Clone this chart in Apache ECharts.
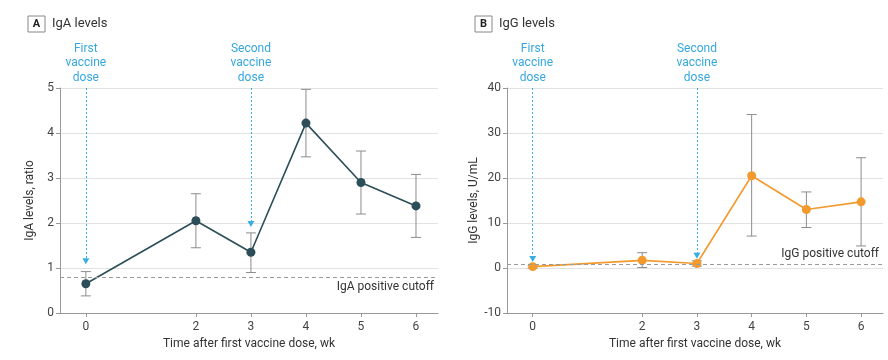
<!DOCTYPE html>
<html>
<head>
<meta charset="utf-8">
<script src="https://cdn.jsdelivr.net/npm/echarts@6/dist/echarts.min.js"></script>
<style>
html,body{margin:0;padding:0;background:#fff;}
#chart{width:888px;height:360px;}
</style>
</head>
<body>
<div id="chart"></div>
<script>
const FONT = '"Roboto", "Liberation Sans", sans-serif';
const weeks = [0, 2, 3, 4, 5, 6];
const xTicks = [0, 2, 3, 4, 5, 6];
const igaMean = [0.65, 2.05, 1.35, 4.22, 2.9, 2.38];
const igaLow = [0.38, 1.45, 0.9, 3.47, 2.2, 1.68];
const igaHigh = [0.92, 2.65, 1.78, 4.97, 3.6, 3.08];
const iggMean = [0.3, 1.7, 1.0, 20.5, 13.0, 14.7];
const iggLow = [0.0, 0.1, 0.4, 7.1, 9.0, 4.9];
const iggHigh = [0.6, 3.4, 1.6, 34.1, 16.9, 24.5];
const igaCutoff = 0.8;
const iggCutoff = 0.8;
const igaArrowTips = [1.15, 1.98];
const iggArrowTips = [2.0, 2.7];
const doseWeeks = [0, 3];
const doseLabels = ['First\nvaccine\ndose', 'Second\nvaccine\ndose'];

const chart = echarts.init(document.getElementById('chart'), null, {renderer: 'canvas'});

function xAxisCfg(gi) {
  return {
    type: 'value', gridIndex: gi, min: -0.47, max: 6.4,
    name: 'Time after first vaccine dose, wk', nameLocation: 'middle', nameGap: 24,
    nameTextStyle: {fontFamily: FONT, fontSize: 12, color: '#333'},
    axisLine: {show: true, onZero: false, lineStyle: {color: '#999', width: 1}},
    axisTick: {show: true, length: 4, customValues: xTicks, lineStyle: {color: '#999'}},
    axisLabel: {customValues: xTicks, fontFamily: FONT, fontSize: 12, color: '#444', margin: 8},
    splitLine: {show: false}
  };
}
function yAxisCfg(gi, min, max, interval, name) {
  return {
    type: 'value', gridIndex: gi, min: min, max: max, interval: interval,
    name: name, nameLocation: 'middle', nameGap: 24,
    nameTextStyle: {fontFamily: FONT, fontSize: 12, color: '#333'},
    axisLine: {show: true, onZero: false, lineStyle: {color: '#999', width: 1}},
    axisTick: {show: true, length: 4, lineStyle: {color: '#999'}},
    axisLabel: {fontFamily: FONT, fontSize: 12, color: '#444', margin: 6},
    splitLine: {show: true, lineStyle: {color: '#e2e2e2', width: 1}}
  };
}
function errSeries(xi, yi, low, high, cutoff, cutLabel, labelPos) {
  return {
    type: 'custom', xAxisIndex: xi, yAxisIndex: yi, z: 1,
    data: weeks.map((w, i) => [w, low[i], high[i]]),
    renderItem: function (params, api) {
      const x = api.value(0);
      const lo = api.coord([x, api.value(1)]);
      const hi = api.coord([x, api.value(2)]);
      const hw = 5;
      const st = {stroke: '#8c8c8c', lineWidth: 1};
      return {type: 'group', children: [
        {type: 'line', shape: {x1: lo[0], y1: lo[1], x2: hi[0], y2: hi[1]}, style: st},
        {type: 'line', shape: {x1: lo[0] - hw, y1: lo[1], x2: lo[0] + hw, y2: lo[1]}, style: st},
        {type: 'line', shape: {x1: hi[0] - hw, y1: hi[1], x2: hi[0] + hw, y2: hi[1]}, style: st}
      ]};
    },
    markLine: {
      silent: true, symbol: 'none', animation: false,
      lineStyle: {type: [4, 3], color: '#9a9a9a', width: 1},
      label: {show: true, position: labelPos, formatter: cutLabel, fontFamily: FONT, fontSize: 12, color: '#333', distance: 4},
      data: [{yAxis: cutoff}]
    }
  };
}
function lineSeries(xi, yi, mean, color, top, tips) {
  return {
    type: 'line', xAxisIndex: xi, yAxisIndex: yi, z: 3,
    data: weeks.map((w, i) => [w, mean[i]]),
    symbol: 'circle', symbolSize: 9,
    itemStyle: {color: color},
    lineStyle: {color: color, width: 1.6},
    markLine: {
      silent: true, animation: false,
      symbol: ['none', 'triangle'], symbolSize: [7, 6],
      lineStyle: {type: [2, 2], color: '#3aaee3', width: 1, opacity: 1},
      itemStyle: {color: '#3aaee3'},
      label: {show: true, position: 'start', distance: 3, fontFamily: FONT, fontSize: 12, color: '#35a7dd', lineHeight: 14.5, align: 'center',
        formatter: p => p.name},
      data: doseWeeks.map((w, i) => [
        {coord: [w, top], name: doseLabels[i], lineStyle: {type: [2, 2], color: '#3aaee3', width: 1}},
        {coord: [w, tips[i]]}
      ])
    }
  };
}
function titleCfg(left, letter, text) {
  return {left: left, top: 11, text: '{b|' + letter + '}{t|' + text + '}',
    textStyle: {fontWeight: 'normal', rich: {
      b: {fontFamily: FONT, fontSize: 11, fontWeight: 'bold', color: '#222', borderColor: '#888', borderWidth: 1, padding: [3, 4, 2, 4], width: 9, align: 'center'},
      t: {fontFamily: FONT, fontSize: 13, fontWeight: 'normal', color: '#333', padding: [0, 0, 0, 7]}
    }}};
}

const option = {
  animation: false,
  backgroundColor: '#fff',
  title: [titleCfg(23, 'A', 'IgA levels'), titleCfg(470, 'B', 'IgG levels')],
  grid: [
    {left: 60, right: 450, top: 88, bottom: 47},
    {left: 507, right: 5, top: 88, bottom: 47}
  ],
  xAxis: [xAxisCfg(0), xAxisCfg(1)],
  yAxis: [
    yAxisCfg(0, 0, 5, 1, 'IgA levels, ratio'),
    yAxisCfg(1, -10, 40, 10, 'IgG levels, U/mL')
  ],
  series: [
    errSeries(0, 0, igaLow, igaHigh, igaCutoff, 'IgA positive cutoff', 'insideEndBottom'),
    lineSeries(0, 0, igaMean, '#2c4e59', 5, igaArrowTips),
    errSeries(1, 1, iggLow, iggHigh, iggCutoff, 'IgG positive cutoff', 'insideEndTop'),
    lineSeries(1, 1, iggMean, '#f39a2e', 40, iggArrowTips)
  ]
};
chart.setOption(option);
</script>
</body>
</html>
